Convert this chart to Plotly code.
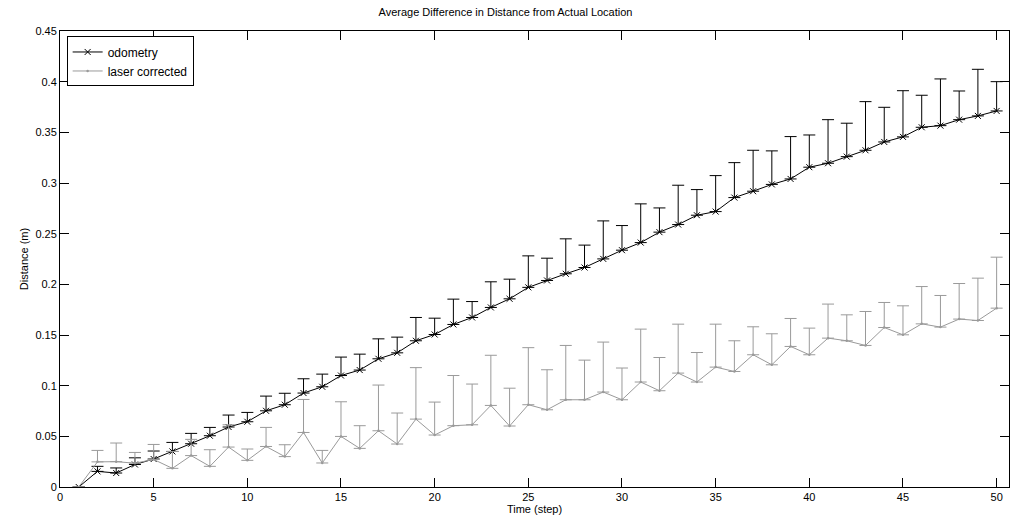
import plotly.graph_objects as go

steps = list(range(1, 51))

odometry = [0, 0.0154, 0.0138, 0.0222, 0.0276, 0.0351, 0.0427, 0.0506, 0.0592, 0.0644,
            0.0752, 0.0812, 0.0927, 0.0989, 0.1100, 0.1154, 0.1265, 0.1324, 0.1443, 0.1505,
            0.1604, 0.1673, 0.1772, 0.1857, 0.1970, 0.2038, 0.2104, 0.2166, 0.2251, 0.2337,
            0.2412, 0.2515, 0.2590, 0.2682, 0.2718, 0.2856, 0.2919, 0.2986, 0.3040, 0.3156,
            0.3195, 0.3260, 0.3323, 0.3405, 0.3455, 0.3550, 0.3566, 0.3625, 0.3662, 0.3711]

odometry_upper = [0, 0.0204, 0.0188, 0.0288, 0.0355, 0.0440, 0.0529, 0.0588, 0.0710, 0.0736,
                  0.0897, 0.0925, 0.1068, 0.1114, 0.1282, 0.1311, 0.1462, 0.1479, 0.1673, 0.1666,
                  0.1854, 0.1830, 0.2025, 0.2051, 0.2281, 0.2258, 0.2449, 0.2387, 0.2626, 0.2580,
                  0.2794, 0.2754, 0.2978, 0.2935, 0.3073, 0.3201, 0.3323, 0.3317, 0.3458, 0.3474,
                  0.3625, 0.3590, 0.3803, 0.3747, 0.3911, 0.3866, 0.4027, 0.3908, 0.4122, 0.4000]

laser = [0, 0.0248, 0.0250, 0.0235, 0.0272, 0.0184, 0.0310, 0.0204, 0.0394, 0.0263,
         0.0400, 0.0300, 0.0538, 0.0237, 0.0499, 0.0381, 0.0555, 0.0424, 0.0670, 0.0513,
         0.0605, 0.0614, 0.0805, 0.0602, 0.0812, 0.0762, 0.0861, 0.0861, 0.0937, 0.0861,
         0.1036, 0.0950, 0.1124, 0.1036, 0.1183, 0.1140, 0.1305, 0.1206, 0.1387, 0.1305,
         0.1469, 0.1443, 0.1397, 0.1574, 0.1502, 0.1610, 0.1578, 0.1657, 0.1643, 0.1765]

laser_upper = [0, 0.0361, 0.0434, 0.0341, 0.0420, 0.0350, 0.0470, 0.0368, 0.0614, 0.0375,
               0.0588, 0.0417, 0.0864, 0.0361, 0.0841, 0.0605, 0.1006, 0.0730, 0.1178, 0.0838,
               0.1100, 0.1016, 0.1300, 0.0975, 0.1375, 0.1157, 0.1397, 0.1252, 0.1430, 0.1174,
               0.1558, 0.1278, 0.1607, 0.1327, 0.1607, 0.1443, 0.1581, 0.1512, 0.1663, 0.1568,
               0.1805, 0.1699, 0.1732, 0.1821, 0.1788, 0.1978, 0.1890, 0.2008, 0.2061, 0.2268]

x_ticks = list(range(0, 51, 5))
y_ticks = [0, 0.05, 0.1, 0.15, 0.2, 0.25, 0.3, 0.35, 0.4, 0.45]

odo_err = [max(u - v, 0) for u, v in zip(odometry_upper, odometry)]
las_err = [max(u - v, 0) for u, v in zip(laser_upper, laser)]

BLACK = "#000000"
GRAY = "#9a9a9a"
FONT = "Liberation Sans, Arial, Helvetica, sans-serif"

fig = go.Figure()
fig.add_trace(go.Scatter(
    x=steps, y=odometry, name="odometry", mode="lines+markers",
    line=dict(color=BLACK, width=1),
    marker=dict(symbol="x-thin", size=6, color=BLACK, line=dict(color=BLACK, width=1)),
    error_y=dict(type="data", symmetric=False, array=odo_err, arrayminus=[0] * len(steps),
                 color=BLACK, thickness=1, width=6),
))
fig.add_trace(go.Scatter(
    x=steps, y=laser, name="laser corrected", mode="lines+markers",
    line=dict(color=GRAY, width=1),
    marker=dict(symbol="circle", size=2.5, color=GRAY),
    error_y=dict(type="data", symmetric=False, array=las_err, arrayminus=[0] * len(steps),
                 color=GRAY, thickness=1, width=6),
))

axis_common = dict(
    showgrid=False, zeroline=False, showline=True, linecolor=BLACK, linewidth=1,
    mirror="ticks", ticks="inside", ticklen=9, tickwidth=1, tickcolor=BLACK,
    tickfont=dict(family=FONT, size=11, color=BLACK), automargin=False,
)

fig.update_layout(
    width=1011, height=521,
    margin=dict(l=60, r=2, t=31, b=34, autoexpand=False),
    paper_bgcolor="white", plot_bgcolor="white",
    font=dict(family=FONT, size=11, color=BLACK),
    title=dict(text="Average Difference in Distance from Actual Location",
               x=0.5, xanchor="center", y=0.977, yanchor="middle",
               font=dict(family=FONT, size=11, color=BLACK)),
    xaxis=dict(range=[0, 50.66], tickvals=x_ticks,
               title=dict(text="Time (step)", standoff=0,
                          font=dict(family=FONT, size=11, color=BLACK)),
               **axis_common),
    yaxis=dict(range=[0, 0.45], tickvals=y_ticks,
               title=dict(text="Distance (m)", standoff=4,
                          font=dict(family=FONT, size=11, color=BLACK)),
               **axis_common),
    legend=dict(x=0.007, y=0.988, xanchor="left", yanchor="top",
                bgcolor="white", bordercolor=BLACK, borderwidth=1,
                font=dict(family=FONT, size=12, color=BLACK),
                tracegroupgap=0, itemsizing="trace"),
    showlegend=True,
)

fig.write_html(
    "out.html",
    config=dict(displayModeBar=False),
    post_script="document.body.style.margin='0';document.body.style.padding='0';"
                "document.body.style.overflow='hidden';",
)
